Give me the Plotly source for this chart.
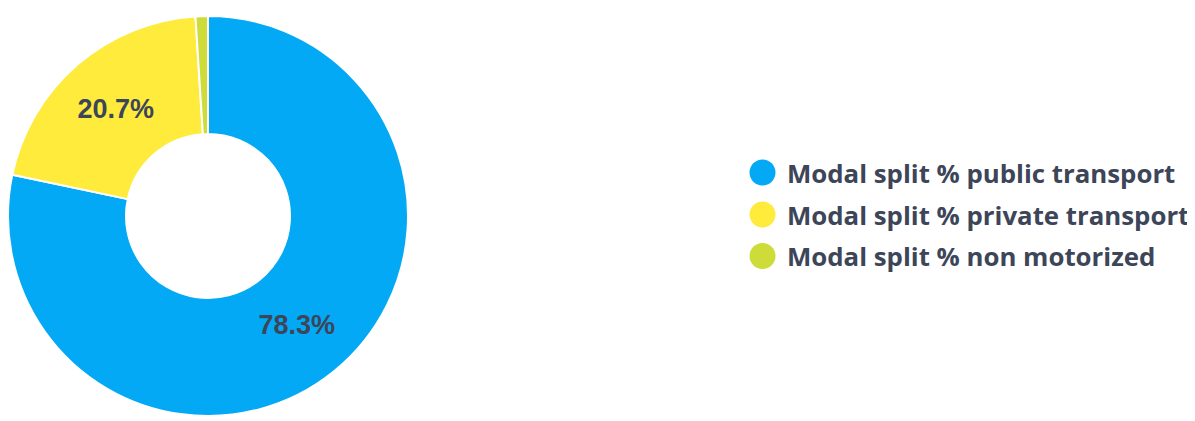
import plotly.graph_objects as go

categories = ["Modal split % public transport", "Modal split % private transport", "Modal split % non motorized"]
values = [78.3, 20.7, 1.0]
slice_labels = ["78.3%", "20.7%", ""]
colors = ["#03A9F4", "#FFEB3B", "#CDDC39"]

W, H = 1195, 421
OFF = 8  # page body margin
text_color = "#3d4558"

fig = go.Figure()
fig.add_trace(go.Pie(
    labels=categories,
    values=values,
    text=slice_labels,
    textinfo="text",
    textposition="inside",
    insidetextorientation="horizontal",
    textfont=dict(family="Liberation Sans, Arial", size=27, color=text_color, weight="bold"),
    marker=dict(colors=colors, line=dict(color="white", width=2)),
    hole=0.41,
    sort=False,
    direction="clockwise",
    rotation=0,
    showlegend=False,
    domain=dict(x=[(8 - OFF) / W, (408 - OFF) / W],
                y=[(H - (416 - OFF)) / H, (H - (16 - OFF)) / H]),
    hoverinfo="label+percent",
))

# manual legend with circular markers
legend_x_circle = 762.5 - OFF
legend_x_text = 777
legend_y = [172.5 - OFF, 214.5 - OFF, 256 - OFF]
r = 13
shapes = []
annotations = []
for i, (cat, col) in enumerate(zip(categories, colors)):
    cy = legend_y[i]
    shapes.append(dict(
        type="circle", xref="paper", yref="paper",
        x0=(legend_x_circle - r) / W, x1=(legend_x_circle + r) / W,
        y0=(H - cy - r) / H, y1=(H - cy + r) / H,
        fillcolor=col, line=dict(width=0),
    ))
    annotations.append(dict(
        text=cat, xref="paper", yref="paper",
        x=legend_x_text / W, y=(H - cy) / H,
        xanchor="left", yanchor="middle", showarrow=False,
        font=dict(family="Open Sans", size=25.8, color=text_color, weight="bold"),
    ))

fig.update_layout(
    width=W, height=H,
    margin=dict(l=0, r=0, t=0, b=0),
    paper_bgcolor="white",
    plot_bgcolor="white",
    shapes=shapes,
    annotations=annotations,
)

fig.write_html("out.html")
